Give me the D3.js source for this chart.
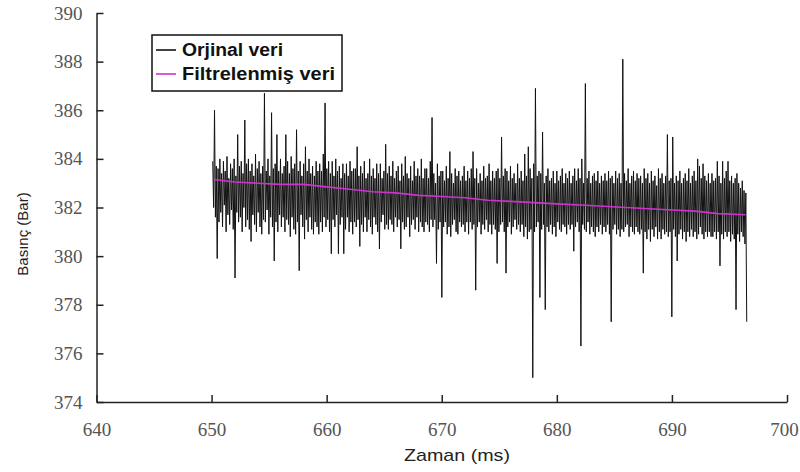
<!DOCTYPE html>
<html>
<head>
<meta charset="utf-8">
<script src="https://cdnjs.cloudflare.com/ajax/libs/d3/7.8.5/d3.min.js"></script>
<style>
  body { margin: 0; background: #fff; }
  .axis path, .axis line { stroke: #222; stroke-width: 1.5; }
  .title { font-family: "Liberation Sans", Arial, sans-serif; fill: #222; }
  .legend text { font-family: "Liberation Sans", Arial, sans-serif; font-weight: bold; font-size: 18px; fill: #111; }
</style>
</head>
<body>
<div id="chart"></div>
<script>
(function() {

// tick labels
var xTicks = [640, 650, 660, 670, 680, 690, 700];
var yTicks = [374, 376, 378, 380, 382, 384, 386, 388, 390];

// raw pressure signal, sampled evenly from rawStart to rawEnd (ms)
var rawStart = 650.1, rawEnd = 696.5;
var rawValues = [
  383.9, 382.0, 386.0, 381.6, 383.7, 379.9, 383.6, 381.4, 384.0, 381.8, 383.4, 381.2, 383.9, 382.1, 383.5, 381.0, 384.1, 381.7, 383.2, 381.3,
  383.8, 381.9, 383.6, 381.1, 384.0, 379.1, 383.3, 381.8, 385.0, 381.4, 383.7, 381.6, 383.9, 381.0, 383.4, 382.0, 385.6, 381.2, 383.8, 381.5,
  384.0, 381.1, 383.5, 380.6, 383.8, 381.7, 383.3, 381.3, 384.2, 381.0, 383.6, 381.8, 383.9, 381.2, 383.4, 380.9, 383.7, 381.5, 386.7, 381.4,
  383.5, 381.9, 384.0, 380.9, 383.3, 381.6, 385.9, 381.2, 383.6, 379.8, 383.8, 381.4, 385.0, 381.0, 383.5, 381.7, 384.0, 381.2, 383.4, 381.6,
  383.7, 381.0, 385.0, 381.5, 383.9, 381.3, 383.4, 380.8, 384.1, 381.6, 383.6, 381.1, 383.8, 380.9, 385.2, 381.4, 383.5, 379.4, 383.9, 381.7,
  383.3, 381.2, 383.8, 380.7, 384.5, 381.5, 383.5, 381.0, 384.0, 381.6, 383.4, 381.1, 383.7, 380.9, 383.3, 381.4, 383.9, 381.2, 383.5, 380.9,
  383.8, 381.4, 383.5, 381.0, 384.2, 381.6, 386.3, 381.2, 383.6, 381.5, 383.9, 381.0, 383.4, 380.1, 383.9, 381.5, 383.3, 381.2, 384.0, 381.7,
  383.5, 380.1, 383.7, 381.3, 383.2, 381.6, 383.8, 380.1, 383.4, 381.1, 383.8, 381.6, 383.3, 381.0, 383.9, 381.4, 383.5, 380.9, 383.6, 381.4,
  383.6, 381.2, 384.5, 381.5, 383.3, 380.4, 383.7, 381.3, 383.4, 381.0, 383.9, 381.6, 383.2, 381.0, 383.4, 381.5, 384.0, 381.2, 383.3, 380.9,
  383.6, 381.6, 383.2, 381.3, 383.8, 381.0, 383.4, 380.3, 383.8, 381.4, 383.2, 381.7, 383.5, 381.1, 384.6, 381.3, 383.4, 381.1, 383.7, 381.5,
  383.3, 381.3, 383.9, 381.0, 383.2, 381.6, 383.5, 381.2, 383.7, 381.5, 383.1, 380.3, 383.8, 381.4, 383.3, 381.1, 384.1, 381.2, 383.4, 381.6,
  383.2, 380.8, 383.7, 381.3, 383.1, 381.5, 383.9, 381.1, 383.3, 381.6, 383.6, 381.0, 383.3, 381.4, 384.0, 381.2, 383.2, 381.0, 383.6, 381.4,
  383.6, 381.3, 383.2, 381.0, 383.9, 381.5, 385.7, 381.2, 383.4, 381.5, 383.0, 379.7, 383.8, 381.1, 383.3, 381.4, 383.5, 378.3, 383.5, 381.2,
  383.1, 381.4, 383.7, 380.9, 383.2, 381.2, 384.3, 380.8, 383.4, 381.3, 383.0, 381.5, 383.6, 381.0, 383.3, 380.9, 383.5, 381.4, 383.1, 381.2,
  383.3, 381.3, 383.7, 381.0, 383.1, 381.4, 383.5, 380.9, 383.2, 381.4, 383.6, 381.1, 384.3, 381.3, 383.2, 378.6, 383.6, 381.2, 383.0, 381.4,
  383.4, 380.9, 383.1, 381.3, 383.7, 381.1, 383.2, 381.5, 383.3, 381.0, 383.8, 381.3, 383.1, 380.9, 383.5, 381.3, 383.2, 381.1, 383.5, 379.7,
  383.6, 381.0, 383.2, 381.3, 384.9, 381.4, 383.3, 381.0, 383.6, 379.3, 383.5, 381.2, 383.1, 381.4, 383.7, 380.9, 383.2, 381.2, 383.4, 381.5,
  383.0, 381.1, 383.8, 381.3, 383.2, 381.0, 383.5, 381.3, 383.1, 380.8, 384.2, 381.2, 383.3, 380.7, 384.5, 381.0, 383.6, 381.1, 383.2, 375.0,
  383.8, 381.0, 386.9, 381.2, 383.3, 381.4, 383.5, 378.3, 383.4, 381.1, 385.1, 381.3, 383.0, 377.8, 383.3, 381.2, 383.6, 381.0, 383.1, 381.3,
  383.2, 380.9, 383.5, 381.2, 383.0, 380.8, 383.5, 381.4, 383.1, 381.1, 383.3, 381.0, 383.6, 381.3, 383.0, 381.2, 383.4, 380.9, 383.2, 381.3,
  383.5, 381.1, 383.0, 381.3, 383.3, 380.2, 383.6, 381.2, 383.1, 381.4, 383.6, 381.0, 383.2, 376.3, 384.0, 381.3, 383.0, 381.1, 387.1, 381.0,
  383.2, 381.4, 383.5, 380.9, 383.0, 381.2, 383.3, 381.0, 383.4, 380.8, 383.1, 381.2, 383.5, 381.0, 383.0, 381.3, 383.3, 380.9, 383.1, 381.2,
  383.4, 381.0, 383.1, 381.3, 383.5, 380.9, 383.2, 377.3, 383.3, 381.1, 383.0, 381.3, 383.5, 380.9, 383.2, 381.1, 383.4, 380.8, 383.0, 381.1,
  388.1, 381.0, 383.4, 381.2, 383.1, 381.3, 383.6, 380.8, 383.0, 381.2, 383.3, 381.0, 383.5, 380.9, 383.1, 381.2, 383.4, 381.0, 383.2, 380.9,
  383.3, 381.1, 383.0, 379.3, 383.6, 381.0, 383.2, 380.7, 383.4, 381.1, 383.0, 380.6, 383.5, 381.1, 383.1, 380.8, 383.3, 381.2, 382.9, 380.7,
  383.6, 381.0, 383.2, 380.7, 383.4, 381.1, 383.0, 380.9, 383.3, 381.0, 385.0, 380.8, 383.1, 381.0, 383.2, 377.5, 384.9, 381.1, 383.0, 380.8,
  383.3, 379.8, 383.1, 380.9, 383.5, 381.1, 383.0, 380.7, 383.2, 381.0, 383.4, 380.6, 383.1, 381.0, 383.6, 380.8, 383.0, 381.1, 383.3, 380.8,
  383.5, 381.0, 383.1, 380.7, 384.0, 380.9, 383.7, 381.2, 383.2, 380.9, 383.8, 380.7, 383.3, 381.0, 383.1, 380.8, 383.4, 381.0, 383.0, 380.8,
  383.4, 380.8, 383.1, 381.0, 383.2, 380.7, 383.9, 381.0, 383.3, 379.6, 383.0, 380.9, 383.9, 380.7, 383.2, 381.0, 383.5, 380.8, 383.9, 381.0,
  383.1, 380.6, 383.3, 380.9, 383.0, 380.7, 383.2, 377.8, 383.4, 380.9, 383.0, 380.6, 382.8, 381.0, 383.1, 380.8, 382.7, 380.5, 382.6, 377.3
];

// filtered signal
var filtTime = [650.2, 652, 654, 656, 658, 660, 662, 664, 666, 668, 670, 672, 674, 676, 678, 680, 682, 684, 686, 688, 690, 692, 694, 696.4];
var filtValues = [383.15, 383.05, 383.0, 382.95, 382.95, 382.85, 382.75, 382.65, 382.6, 382.5, 382.45, 382.4, 382.3, 382.25, 382.2, 382.15, 382.1, 382.05, 382.0, 381.95, 381.9, 381.85, 381.75, 381.7];

var seriesNames = ["Orjinal veri", "Filtrelenmiş veri"];
var seriesColors = ["#111111", "#cc33cc"];

var margin = {top: 13, right: 13, bottom: 70, left: 96.5},
    width = 800 - margin.left - margin.right,
    height = 472 - margin.top - margin.bottom;

var x = d3.scaleLinear().domain([640, 700]).range([0, width]);
var y = d3.scaleLinear().domain([374, 390]).range([height, 0]);

var idx = d3.scaleLinear().domain([0, rawValues.length - 1]).range([rawStart, rawEnd]);

var svg = d3.select("#chart").append("svg")
    .attr("width", 800)
    .attr("height", 472)
  .append("g")
    .attr("transform", "translate(" + margin.left + "," + margin.top + ")");

// axes, ticks pointing inward
var yAxis = svg.append("g")
  .attr("class", "axis")
  .call(d3.axisLeft(y).tickValues(yTicks).tickSizeInner(-7).tickSizeOuter(0).tickPadding(14));

var xAxis = svg.append("g")
  .attr("class", "axis")
  .attr("transform", "translate(0," + height + ")")
  .call(d3.axisBottom(x).tickValues(xTicks).tickSizeInner(-7).tickSizeOuter(0).tickPadding(21));

svg.selectAll(".axis .tick text")
  .style("font-family", "'Liberation Serif', 'DejaVu Serif', serif")
  .style("font-size", "19px")
  .style("fill", "#555");

// last label sits a bit left so it stays inside the frame
xAxis.selectAll(".tick text").filter(function(d) { return d === 700; }).attr("dx", -3);

var line = d3.line()
  .x(function(d) { return x(d[0]); })
  .y(function(d) { return y(d[1]); });

var raw = rawValues.map(function(v, i) { return [idx(i), v]; });
var filt = filtValues.map(function(v, i) { return [filtTime[i], v]; });

svg.append("path")
  .datum(raw)
  .attr("d", line)
  .style("fill", "none")
  .style("stroke", seriesColors[0])
  .style("stroke-width", 1);

svg.append("path")
  .datum(filt)
  .attr("d", line)
  .style("fill", "none")
  .style("stroke", seriesColors[1])
  .style("stroke-width", 1.6);

// axis titles
svg.append("text")
  .attr("class", "title")
  .attr("transform", "translate(" + (28 - margin.left) + "," + (234 - margin.top) + ") rotate(-90)")
  .attr("text-anchor", "middle")
  .style("font-size", "15px")
  .text("Basınç (Bar)");

svg.append("text")
  .attr("class", "title")
  .attr("x", 457 - margin.left)
  .attr("y", 461 - margin.top)
  .attr("text-anchor", "middle")
  .style("font-size", "17px")
  .attr("textLength", 106)
  .attr("lengthAdjust", "spacingAndGlyphs")
  .text("Zaman (ms)");

// legend
var legend = svg.append("g")
  .attr("class", "legend")
  .attr("transform", "translate(" + (152 - margin.left) + "," + (35 - margin.top) + ")");

legend.append("rect")
  .attr("width", 190)
  .attr("height", 56)
  .style("fill", "white")
  .style("stroke", "#111")
  .style("stroke-width", 1.5);

seriesNames.forEach(function(name, i) {
  var ly = 15 + i * 24;
  legend.append("line")
    .attr("x1", 4).attr("x2", 24)
    .attr("y1", ly).attr("y2", ly)
    .style("stroke", seriesColors[i])
    .style("stroke-width", 1.6);
  legend.append("text")
    .attr("x", 30)
    .attr("y", ly + 6)
    .attr("textLength", i === 0 ? 101 : 153)
    .attr("lengthAdjust", "spacingAndGlyphs")
    .text(name);
});

})()
</script>
</body>
</html>
